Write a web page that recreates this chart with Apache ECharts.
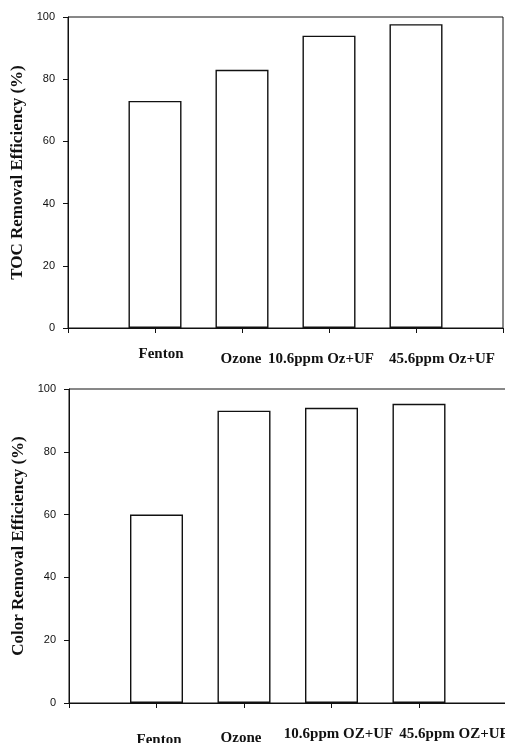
<!DOCTYPE html>
<html>
<head>
<meta charset="utf-8">
<script src="https://cdn.jsdelivr.net/npm/echarts@6/dist/echarts.min.js"></script>
<style>
html,body{margin:0;padding:0;background:#fff;}
#main{width:505px;height:743px;}
</style>
</head>
<body>
<div id="main"></div>
<script>
const tocCategories = ['Fenton', 'Ozone', '10.6ppm Oz+UF', '45.6ppm Oz+UF'];
const colorCategories = ['Fenton', 'Ozone', '10.6ppm OZ+UF', '45.6ppm OZ+UF'];
const tocValues = [73, 83, 94, 97.7];
const colorValues = [60, 93.1, 94, 95.3];
const yMin = 0, yMax = 100, yStep = 20;
const tocTitle = 'TOC Removal Efficiency (%)';
const colorTitle = 'Color Removal Efficiency (%)';

const ink = '#111';
const serif = 'Liberation Serif';
const sans = 'Liberation Sans';

function pad(arr, fill) { return [fill].concat(arr, [fill]); }

function richFor(pads) {
  const r = {};
  pads.forEach((p, i) => {
    r['l' + (i + 1)] = {fontFamily: serif, fontWeight: 'bold', fontSize: 15, color: ink, padding: p};
  });
  return r;
}

function xAxisFor(gridIndex, cats, margin, pads) {
  return {
    type: 'category', gridIndex: gridIndex, boundaryGap: false,
    data: pad(cats, ''),
    axisLine: {lineStyle: {color: ink, width: 1}},
    axisTick: {show: true, length: 5, inside: false, lineStyle: {color: ink}, interval: 0},
    axisLabel: {
      interval: 0, margin: margin, fontFamily: serif, fontWeight: 'bold', fontSize: 15, color: ink,
      hideOverlap: false,
      formatter: (v, i) => v ? '{l' + i + '|' + v + '}' : '',
      rich: richFor(pads)
    },
    splitLine: {show: false}
  };
}

function yAxisFor(gridIndex, title) {
  return {
    type: 'value', gridIndex: gridIndex, min: yMin, max: yMax, interval: yStep,
    name: title, nameLocation: 'middle', nameGap: 40,
    nameTextStyle: {fontFamily: serif, fontWeight: 'bold', fontSize: 17, color: ink},
    axisLine: {show: true, lineStyle: {color: ink, width: 1}},
    axisTick: {show: true, length: 5, lineStyle: {color: ink}},
    axisLabel: {margin: 13, fontFamily: sans, fontSize: 11, color: ink},
    splitLine: {show: false}
  };
}

function barSeries(idx, values) {
  return {
    type: 'bar', xAxisIndex: idx, yAxisIndex: idx,
    data: pad(values, '-'),
    barWidth: 53,
    itemStyle: {color: '#fff', borderColor: ink, borderWidth: 1.4},
    silent: true, animation: false
  };
}

const chart = echarts.init(document.getElementById('main'), null, {renderer: 'canvas'});
chart.setOption({
  backgroundColor: '#fff',
  animation: false,
  grid: [
    {left: 68, top: 17, width: 435, height: 311, show: true, borderColor: ink, borderWidth: 1, backgroundColor: 'transparent', outerBoundsMode: 'none', containLabel: false},
    {left: 69, top: 389, width: 437.5, height: 314, show: true, borderColor: ink, borderWidth: 1, backgroundColor: 'transparent', outerBoundsMode: 'none', containLabel: false}
  ],
  xAxis: [
    xAxisFor(0, tocCategories, 19, [[0,0,0,12],[5,2,0,0],[5,16,0,0],[5,0,0,52]]),
    xAxisFor(1, colorCategories, 24, [[6,0,0,5],[4,6,0,0],[0,0,0,14],[0,0,0,70]])
  ],
  yAxis: [yAxisFor(0, tocTitle), yAxisFor(1, colorTitle)],
  series: [barSeries(0, tocValues), barSeries(1, colorValues)]
});
</script>
</body>
</html>
